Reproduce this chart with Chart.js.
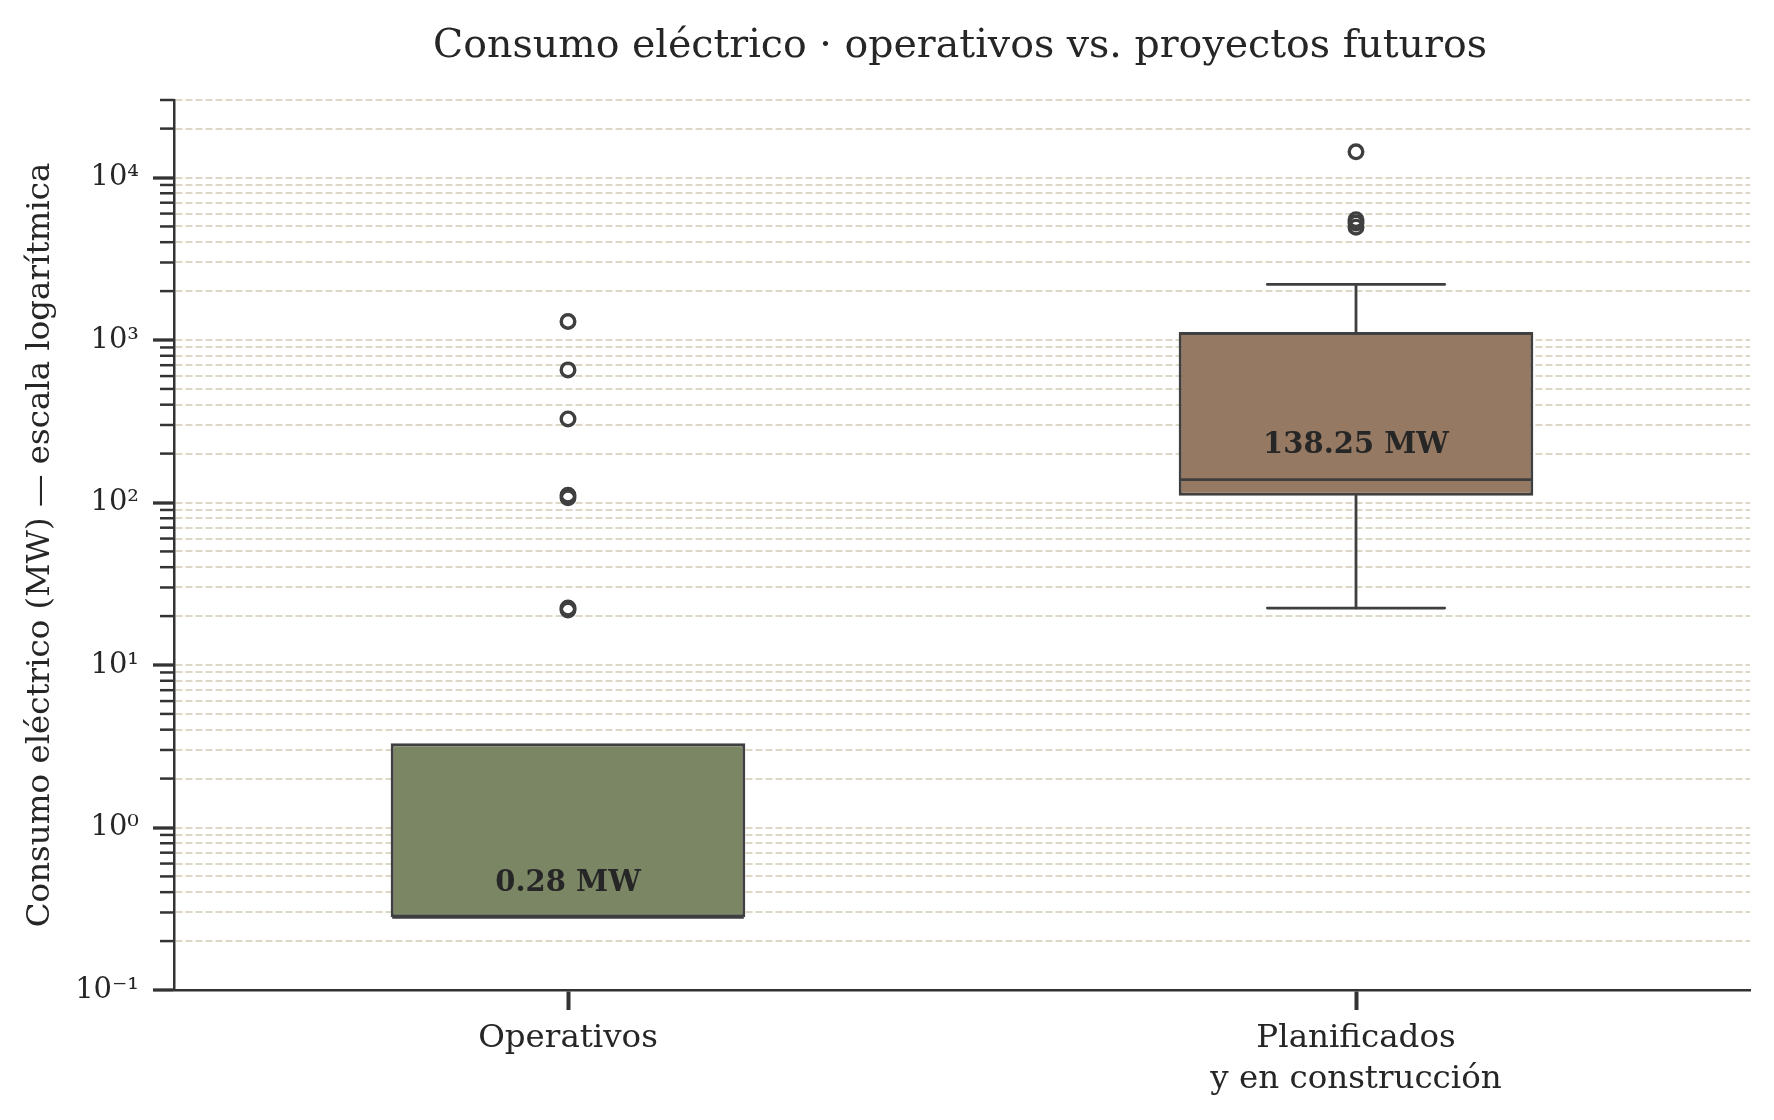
<!DOCTYPE html>
<html>
<head>
<meta charset="utf-8">
<script src="https://cdn.jsdelivr.net/npm/chart.js@4.4.1/dist/chart.umd.min.js"></script>
<style>
  html, body { margin: 0; background: #fff; }
  canvas { display: block; }
</style>
</head>
<body>
<canvas id="chart" width="1774" height="1120" style="width:1774px;height:1120px"></canvas>
<script>
const categories = ["Operativos", "Planificados\ny en construcción"];
const boxLow = [0.28, 110];
const boxHigh = [3.3, 1120];
const medians = [0.28, 138.25];
const whiskerLow = [0.28, 22.4];
const whiskerHigh = [3.3, 2200];
const outliersOp = [21.8, 22.4, 107, 111, 327, 655, 1300];
const outliersPlan = [4950, 5250, 5500, 14400];
const medianLabels = ["0.28 MW", "138.25 MW"];
const boxColors = ["#7b8665", "#957962"];
const decades = [0.1, 1, 10, 100, 1000, 10000];
const decadeLabels = ["10⁻¹", "10⁰", "10¹", "10²", "10³", "10⁴"];
const yMin = 0.1;
const yMax = 30000;

const FONT = "'DejaVu Serif', serif";
const TEXT = "#262626";
const EDGE = "#3f3f3f";
const AXIS = "#333333";

// every 1..9 x 10^n position between yMin and yMax
const yTicks = [];
decades.forEach((d) => {
  for (let m = 1; m <= 9; m++) {
    const v = +(d * m).toPrecision(3);
    if (v <= yMax) yTicks.push(v);
  }
});
const isMajor = (v) => decades.includes(v);

const outlierPoints = outliersOp
  .map((v) => ({ x: categories[0], y: v }))
  .concat(outliersPlan.map((v) => ({ x: categories[1], y: v })));

const boxParts = {
  id: "boxParts",
  afterDatasetsDraw(chart) {
    const { ctx } = chart;
    const y = chart.scales.y;
    const meta = chart.getDatasetMeta(0);
    ctx.save();
    ctx.strokeStyle = EDGE;
    ctx.lineWidth = 2.8;
    ctx.lineCap = "round";
    const seg = (x1, y1, x2, y2) => {
      ctx.beginPath();
      ctx.moveTo(x1, y1);
      ctx.lineTo(x2, y2);
      ctx.stroke();
    };
    meta.data.forEach((bar, i) => {
      const cx = bar.x;
      const half = bar.width / 2;
      const cap = bar.width / 4;
      const pHi = y.getPixelForValue(whiskerHigh[i]);
      const pLo = y.getPixelForValue(whiskerLow[i]);
      // whisker + cap only where it leaves the box
      if (whiskerHigh[i] > boxHigh[i]) {
        seg(cx, y.getPixelForValue(boxHigh[i]), cx, pHi);
        seg(cx - cap, pHi, cx + cap, pHi);
      }
      if (whiskerLow[i] < boxLow[i]) {
        seg(cx, y.getPixelForValue(boxLow[i]), cx, pLo);
        seg(cx - cap, pLo, cx + cap, pLo);
      }
      ctx.lineCap = "butt";
      const pMed = y.getPixelForValue(medians[i]);
      seg(cx - half + 1.5, pMed, cx + half - 1.5, pMed);
      ctx.lineCap = "round";
    });
    ctx.fillStyle = TEXT;
    ctx.font = "bold 29px " + FONT;
    ctx.textAlign = "center";
    ctx.textBaseline = "middle";
    meta.data.forEach((bar, i) => {
      ctx.fillText(medianLabels[i], bar.x, y.getPixelForValue(medians[i] * 1.62));
    });
    ctx.restore();
  },
  afterDraw(chart) {
    const { ctx, chartArea } = chart;
    const y = chart.scales.y;
    ctx.save();
    // minor ticks, shorter than the major ones
    ctx.strokeStyle = AXIS;
    ctx.lineWidth = 2.5;
    yTicks.filter((v) => !isMajor(v)).forEach((v) => {
      const py = y.getPixelForValue(v);
      ctx.beginPath();
      ctx.moveTo(chartArea.left - 14, py);
      ctx.lineTo(chartArea.left, py);
      ctx.stroke();
    });
    // title centred over the axes
    ctx.fillStyle = TEXT;
    ctx.font = "39.5px " + FONT;
    ctx.textAlign = "center";
    ctx.textBaseline = "alphabetic";
    ctx.fillText("Consumo eléctrico · operativos vs. proyectos futuros",
      (chartArea.left + chartArea.right) / 2 - 2, 57);
    ctx.restore();
  },
};

new Chart(document.getElementById("chart"), {
  type: "bar",
  data: {
    labels: categories,
    datasets: [
      {
        data: boxLow.map((lo, i) => [lo, boxHigh[i]]),
        backgroundColor: boxColors,
        borderColor: EDGE,
        borderWidth: 3,
        borderSkipped: false,
        barPercentage: 0.45,
        categoryPercentage: 1,
      },
      {
        type: "scatter",
        data: outlierPoints,
        pointStyle: "circle",
        pointRadius: 6.8,
        pointBorderWidth: 3.4,
        pointBorderColor: EDGE,
        pointBackgroundColor: "rgba(0,0,0,0)",
      },
    ],
  },
  options: {
    responsive: false,
    devicePixelRatio: 1,
    animation: false,
    layout: { padding: { top: 100, right: 24, left: 0, bottom: 0 } },
    plugins: { legend: { display: false }, tooltip: { enabled: false } },
    scales: {
      x: {
        offset: true,
        grid: {
          offset: false,
          drawOnChartArea: false,
          drawTicks: true,
          tickLength: 20,
          tickWidth: 4,
          tickColor: AXIS,
        },
        border: { color: AXIS, width: 2.5 },
        ticks: {
          color: TEXT,
          padding: 8,
          font: { family: FONT, size: 32.5, lineHeight: 1.26 },
          callback: (v, i) => categories[i].split("\n"),
        },
        afterFit: (s) => { s.height = 130; },
      },
      y: {
        type: "logarithmic",
        min: yMin,
        max: yMax,
        afterBuildTicks: (s) => { s.ticks = yTicks.map((v) => ({ value: v })); },
        grid: {
          color: "#dcd7c6",
          lineWidth: 2,
          tickLength: 21,
          tickWidth: 3.3,
          tickColor: (c) => (c.tick && isMajor(c.tick.value) ? AXIS : "rgba(0,0,0,0)"),
        },
        border: { color: AXIS, width: 2.5, dash: [7, 3] },
        ticks: {
          autoSkip: false,
          color: TEXT,
          padding: 14,
          font: { family: FONT, size: 29 },
          callback: (v) => {
            const k = decades.indexOf(+(+v).toPrecision(3));
            return k >= 0 ? decadeLabels[k] : "";
          },
        },
        title: {
          display: true,
          text: "Consumo eléctrico (MW) — escala logarítmica",
          color: TEXT,
          font: { family: FONT, size: 32.5 },
          padding: { top: 21, bottom: 0 },
        },
        afterFit: (s) => { s.width = 174; },
      },
    },
  },
  plugins: [boxParts],
});
</script>
</body>
</html>
